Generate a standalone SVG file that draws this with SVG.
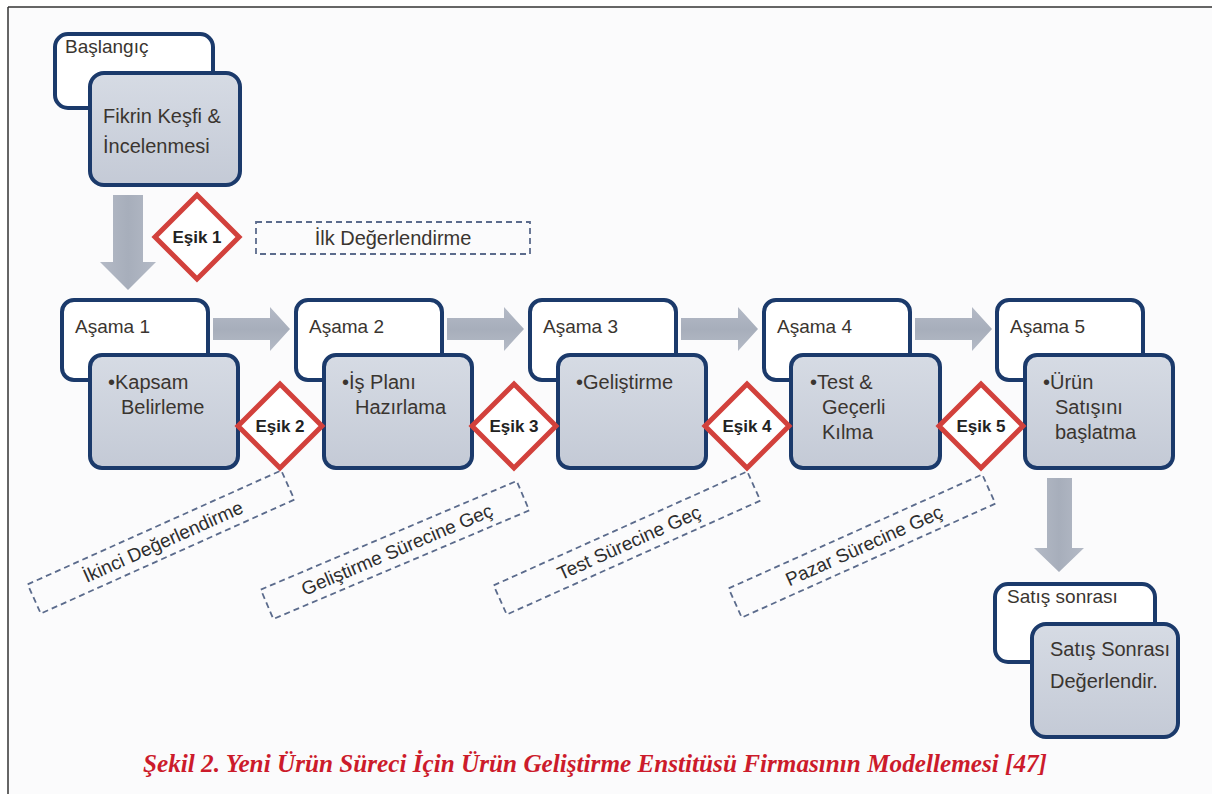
<svg xmlns="http://www.w3.org/2000/svg" width="1212" height="794" viewBox="0 0 1212 794">
<defs>
<linearGradient id="gFront" x1="0" y1="0" x2="0" y2="1">
<stop offset="0" stop-color="#d6dbe4"/>
<stop offset="1" stop-color="#c4cad6"/>
</linearGradient>
<linearGradient id="gArrowH" x1="0" y1="0" x2="0" y2="1">
<stop offset="0" stop-color="#b4bac6"/>
<stop offset="0.5" stop-color="#a7aebb"/>
<stop offset="1" stop-color="#b4bac6"/>
</linearGradient>
<linearGradient id="gArrowV" x1="0" y1="0" x2="1" y2="0">
<stop offset="0" stop-color="#b4bac6"/>
<stop offset="0.5" stop-color="#a7aebb"/>
<stop offset="1" stop-color="#b4bac6"/>
</linearGradient>
</defs>
<style>
.back{fill:#ffffff;stroke:#1b3a6b;stroke-width:4}
.front{fill:url(#gFront);stroke:#1b3a6b;stroke-width:4}
.dia{fill:#ffffff;stroke:#d2413c;stroke-width:5;stroke-linejoin:miter}
.dash{fill:none;stroke:#5b6b8c;stroke-width:1.8;stroke-dasharray:6 4}
.t{font-family:"Liberation Sans","DejaVu Sans",sans-serif;font-size:20px;fill:#3a3530}
.ta{font-family:"Liberation Sans","DejaVu Sans",sans-serif;font-size:19px;fill:#3a3530}
.tr{font-family:"Liberation Sans","DejaVu Sans",sans-serif;font-size:19px;fill:#2e2e2e}
.tb{font-family:"Liberation Sans","DejaVu Sans",sans-serif;font-size:17px;font-weight:bold;fill:#222222}
.cap{font-family:"Liberation Serif","DejaVu Serif",serif;font-size:25px;font-weight:bold;font-style:italic;fill:#cc1b2b}
</style>
<rect x="8" y="7" width="1204" height="787" fill="#fbfbfc"/>
<line x1="8" y1="7" x2="1212" y2="7" stroke="#333" stroke-width="1.5"/>
<line x1="8" y1="7" x2="8" y2="794" stroke="#333" stroke-width="1.5"/>

<g id="connectors">
<polygon points="113,195 143,195 143,262 156,262 128,290 100,262 113,262" fill="url(#gArrowV)"/>
<polygon points="213,318 270,318 270,307 290,329 270,351 270,340 213,340" fill="url(#gArrowH)"/>
<polygon points="447,318 504,318 504,307 524,329 504,351 504,340 447,340" fill="url(#gArrowH)"/>
<polygon points="681,318 738,318 738,307 758,329 738,351 738,340 681,340" fill="url(#gArrowH)"/>
<polygon points="915,318 972,318 972,307 992,329 972,351 972,340 915,340" fill="url(#gArrowH)"/>
<polygon points="1047,478 1072,478 1072,548 1084,548 1059,572 1034,548 1047,548" fill="url(#gArrowV)"/>
</g>

<g id="start">
<rect class="back" x="55" y="34" width="158" height="74" rx="13"/>
<text class="ta" x="65" y="53">Başlangıç</text>
<rect class="front" x="90" y="73" width="150" height="112" rx="14"/>
<text class="t" x="103" y="123">Fikrin Keşfi &amp;</text>
<text class="t" x="103" y="153">İncelenmesi</text>
</g>

<g id="esik1">
<polygon class="dia" points="197,195 239,237 197,279 155,237"/>
<text class="tb" x="197" y="243" text-anchor="middle">Eşik 1</text>
</g>
<g id="ilk">
<rect class="dash" x="256" y="222" width="274" height="32"/>
<text class="t" x="393" y="245" text-anchor="middle">İlk Değerlendirme</text>
</g>

<g id="asama1">
<rect class="back" x="62" y="300" width="146" height="80" rx="12"/>
<text class="ta" x="75" y="333">Aşama 1</text>
<rect class="front" x="90" y="355" width="148" height="113" rx="12"/>
<text class="t" x="108" y="389">•Kapsam</text>
<text class="t" x="121" y="414">Belirleme</text>
</g>
<g id="asama2">
<rect class="back" x="296" y="300" width="146" height="80" rx="12"/>
<text class="ta" x="309" y="333">Aşama 2</text>
<rect class="front" x="324" y="355" width="148" height="113" rx="12"/>
<text class="t" x="342" y="389">•İş Planı</text>
<text class="t" x="355" y="414">Hazırlama</text>
</g>
<g id="asama3">
<rect class="back" x="530" y="300" width="146" height="80" rx="12"/>
<text class="ta" x="543" y="333">Aşama 3</text>
<rect class="front" x="558" y="355" width="148" height="113" rx="12"/>
<text class="t" x="576" y="389">•Geliştirme</text>
</g>
<g id="asama4">
<rect class="back" x="764" y="300" width="146" height="80" rx="12"/>
<text class="ta" x="777" y="333">Aşama 4</text>
<rect class="front" x="791" y="355" width="149" height="113" rx="12"/>
<text class="t" x="810" y="389">•Test &amp;</text>
<text class="t" x="822" y="414">Geçerli</text>
<text class="t" x="822" y="439">Kılma</text>
</g>
<g id="asama5">
<rect class="back" x="997" y="300" width="146" height="80" rx="12"/>
<text class="ta" x="1010" y="333">Aşama 5</text>
<rect class="front" x="1025" y="355" width="148" height="113" rx="12"/>
<text class="t" x="1043" y="389">•Ürün</text>
<text class="t" x="1055" y="414">Satışını</text>
<text class="t" x="1055" y="439">başlatma</text>
</g>

<g id="esik2">
<polygon class="dia" points="280,384 322,426 280,468 238,426"/>
<text class="tb" x="280" y="432" text-anchor="middle">Eşik 2</text>
</g>
<g id="esik3">
<polygon class="dia" points="514,384 556,426 514,468 472,426"/>
<text class="tb" x="514" y="432" text-anchor="middle">Eşik 3</text>
</g>
<g id="esik4">
<polygon class="dia" points="747,384 789,426 747,468 705,426"/>
<text class="tb" x="747" y="432" text-anchor="middle">Eşik 4</text>
</g>
<g id="esik5">
<polygon class="dia" points="981,384 1023,426 981,468 939,426"/>
<text class="tb" x="981" y="432" text-anchor="middle">Eşik 5</text>
</g>

<g id="lbl2" transform="translate(161,542) rotate(-24.2)">
<rect class="dash" x="-139" y="-16" width="278" height="32"/>
<text class="tr" x="2" y="7" text-anchor="middle">İkinci Değerlendirme</text>
</g>
<g id="lbl3" transform="translate(395,550) rotate(-23)">
<rect class="dash" x="-139" y="-16" width="278" height="32"/>
<text class="tr" x="2" y="7" text-anchor="middle">Geliştirme Sürecine Geç</text>
</g>
<g id="lbl4" transform="translate(627,543) rotate(-24.2)">
<rect class="dash" x="-139" y="-16" width="278" height="32"/>
<text class="tr" x="2" y="7" text-anchor="middle">Test Sürecine Geç</text>
</g>
<g id="lbl5" transform="translate(862,546) rotate(-24.2)">
<rect class="dash" x="-139" y="-16" width="278" height="32"/>
<text class="tr" x="2" y="7" text-anchor="middle">Pazar Sürecine Geç</text>
</g>

<g id="satis">
<rect class="back" x="995" y="584" width="160" height="78" rx="13"/>
<text class="ta" x="1007" y="603">Satış sonrası</text>
<rect class="front" x="1032" y="624" width="146" height="113" rx="14"/>
<text class="t" x="1050" y="656">Satış Sonrası</text>
<text class="t" x="1050" y="688">Değerlendir.</text>
</g>

<text class="cap" x="595" y="772" text-anchor="middle" textLength="904" lengthAdjust="spacingAndGlyphs">Şekil 2. Yeni Ürün Süreci İçin Ürün Geliştirme Enstitüsü Firmasının Modellemesi [47]</text>
</svg>
